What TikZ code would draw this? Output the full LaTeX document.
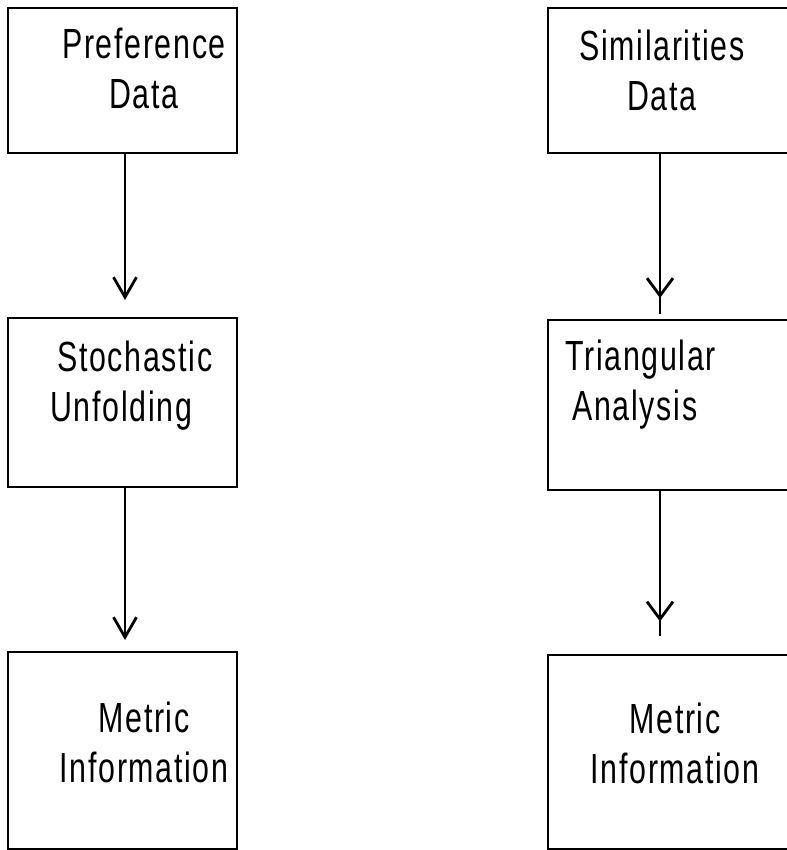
\documentclass[tikz,border=0pt]{standalone}
\usepackage{fontspec}
\setmainfont[FakeStretch=0.72,LetterSpace=4]{Liberation Sans}
\usetikzlibrary{arrows.meta,decorations.markings}
\tikzset{
  box/.style={draw, line width=1.1pt, minimum width=4.58cm},
  widebox/.style={draw, line width=1.1pt, minimum width=5.2cm},
  lbl/.style={font=\fontsize{24}{28.5}\selectfont, inner sep=0pt},
  flow/.style={line width=1.2pt, -{Straight Barb[length=4mm,width=4.6mm,line width=1.6pt]}},
  yflow/.style={line width=1.2pt, postaction={decorate, decoration={markings,
    mark=at position 0.9 with {\arrow{Straight Barb[length=3.5mm,width=5.2mm,line width=1.6pt]}}}}}
}
\begin{document}
\begin{tikzpicture}[x=0.02cm,y=-0.02cm]
\useasboundingbox (0,0) rectangle (787,850);
\clip (0,0) rectangle (787,850);
% -- Left column --
\node[box, minimum height=2.9cm] (pref) at (122.5,80.5) {};
\node[lbl, align=center] (preftxt) at (144,68) {Preference\\Data};
\node[box, minimum height=3.38cm] (unfold) at (122.5,402.5) {};
\node[lbl, align=left, anchor=west] (unfoldtxt) at (50,386) {\,Stochastic\\Unfolding};
\node[box, minimum height=3.94cm] (metl) at (122.5,750.5) {};
\node[lbl, align=center] (metltxt) at (144,742) {Metric\\Information};
% -- Right column --
\node[widebox, minimum height=2.9cm] (simil) at (678,80.5) {};
\node[lbl, align=center] (similtxt) at (662,70) {Similarities\\Data};
\node[widebox, minimum height=3.4cm] (triang) at (678,405) {};
\node[lbl, align=left, anchor=west] (triangtxt) at (565,385) {Triangular\\\,Analysis};
\node[widebox, minimum height=3.88cm] (metr) at (678,752) {};
\node[lbl, align=center] (metrtxt) at (675,743) {Metric\\Information};
% Free ends of the connectors
\coordinate (a1) at (125,300);
\coordinate (a2) at (125,640);
\coordinate (b1) at (660,314);
\coordinate (b2) at (660,636);
% Arrows
\draw[flow] (pref.south -| a1) -- (a1);
\draw[flow] (unfold.south -| a2) -- (a2);
\draw[yflow] (simil.south -| b1) -- (b1);
\draw[yflow] (triang.south -| b2) -- (b2);
\end{tikzpicture}
\end{document}
